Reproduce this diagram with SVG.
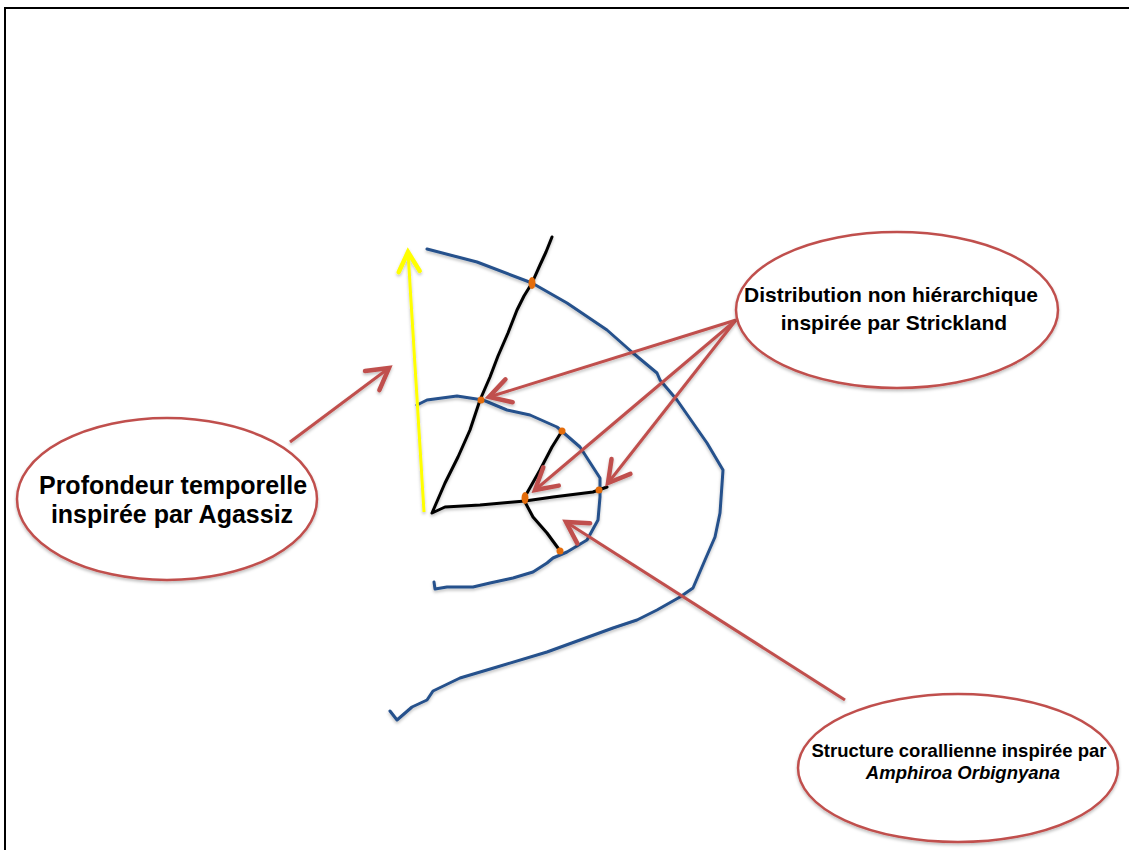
<svg xmlns="http://www.w3.org/2000/svg" width="1129" height="850" viewBox="0 0 1129 850">
<defs>
<style>
.frame{fill:none;stroke:#000;stroke-width:2}
.blue{fill:none;stroke:#25518c;stroke-width:3;stroke-linecap:round;stroke-linejoin:round}
.blk{fill:none;stroke:#000;stroke-width:3;stroke-linecap:round;stroke-linejoin:round}
.red{fill:none;stroke:#c0504d;stroke-width:3;marker-end:url(#ra)}
.ell{fill:#fff;stroke:#c0504d;stroke-width:2.5}
.dot{fill:#e46c0a}
.t{font-family:"Liberation Sans",Arial,sans-serif;font-weight:bold;fill:#000;text-anchor:middle}
</style>
<marker id="ra" markerUnits="userSpaceOnUse" markerWidth="30" markerHeight="30" viewBox="-16 -10 20 20" refX="0" refY="0" orient="auto">
<path d="M-14,-8 L0,0 L-14,8" fill="none" stroke="#c0504d" stroke-width="3" stroke-linecap="round" stroke-linejoin="miter"/>
</marker>
<marker id="ya" markerUnits="userSpaceOnUse" markerWidth="30" markerHeight="30" viewBox="-16 -10 20 20" refX="0" refY="0" orient="auto">
<path d="M-13,-7 L0,0 L-13,7" fill="none" stroke="#ffff00" stroke-width="3" stroke-linecap="round"/>
</marker>
<filter id="sh" x="-10%" y="-10%" width="120%" height="130%">
<feDropShadow dx="0" dy="2" stdDeviation="1.5" flood-color="#000" flood-opacity="0.25"/>
</filter>
</defs>
<path class="frame" d="M5,850 V8 H1129"/>
<g id="curves" filter="url(#sh)">
<polyline class="blue" points="427,249 477,262 532,283 567,303 607,330 633,353 657,373 660,380 677,400 707,443 723,470 720,513 715,537 705,560 693,588 680,597 657,610 637,620 613,628 580,640 547,652 497,667 460,678 433,691 427,700 412,707 397,720 390,711"/>
<polyline class="blue" points="417,405 427,400 457,396 483,400 507,410 530,415 557,427 580,447 600,478 600,497 598,520 587,540 567,552 553,558 547,563 533,572 513,578 490,583 473,587 447,587 435,589 434,582"/>
<polyline class="blk" points="552,237 546,252 540,265 532,283 524,296 517,310 508,333 498,356 490,377 480,400 470,430 458,457 445,483 432,513 445,507 480,505 525,501 553,497 593,492 607,487"/>
<polyline class="blk" points="527,493 540,470 552,447 562,431"/>
<polyline class="blk" points="525,502 533,517 547,533 558,548"/>
<line x1="424" y1="512" x2="408" y2="252" stroke="#ffff00" stroke-width="3" marker-end="url(#ya)"/>
</g>
<g id="dots">
<ellipse class="dot" cx="532" cy="283" rx="3.5" ry="6"/>
<circle class="dot" cx="481" cy="400" r="3.5"/>
<circle class="dot" cx="562" cy="431" r="3.5"/>
<ellipse class="dot" cx="525" cy="498" rx="3.5" ry="6"/>
<circle class="dot" cx="599" cy="490" r="3.5"/>
<circle class="dot" cx="560" cy="551" r="3.5"/>
</g>
<g id="connectors" filter="url(#sh)">
<line class="red" x1="290" y1="442" x2="389" y2="368"/>
<line class="red" x1="736" y1="320" x2="489" y2="397"/>
<line class="red" x1="736" y1="320" x2="535" y2="490"/>
<line class="red" x1="736" y1="320" x2="608" y2="483"/>
<line class="red" x1="845" y1="700" x2="566" y2="522"/>
</g>
<g id="agassiz">
<ellipse class="ell" cx="167" cy="499" rx="150" ry="81" filter="url(#sh)"/>
<text class="t" font-size="25" x="173" y="494">Profondeur temporelle</text>
<text class="t" font-size="25" x="172" y="523">inspirée par Agassiz</text>
</g>
<g id="strickland">
<ellipse class="ell" cx="897" cy="310" rx="161" ry="78" filter="url(#sh)"/>
<text class="t" font-size="21" x="891" y="302">Distribution non hiérarchique</text>
<text class="t" font-size="21" x="894" y="330">inspirée par Strickland</text>
</g>
<g id="coral">
<ellipse class="ell" cx="958" cy="768" rx="160" ry="74" filter="url(#sh)"/>
<text class="t" font-size="18.5" x="959" y="757">Structure corallienne inspirée par</text>
<text class="t" font-size="18.5" x="963" y="779" font-style="italic">Amphiroa Orbignyana</text>
</g>
</svg>
